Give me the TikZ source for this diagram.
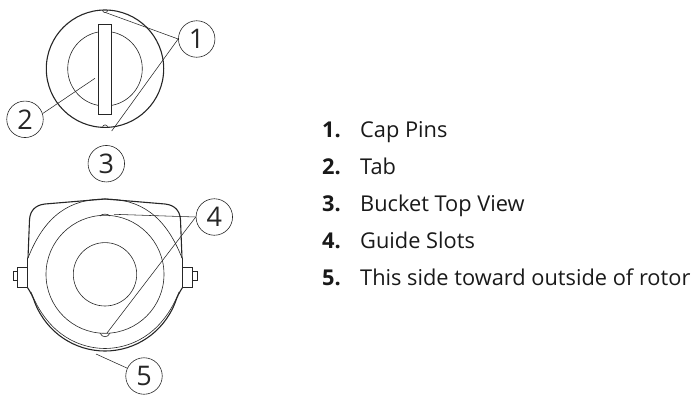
\documentclass[tikz,border=0pt]{standalone}
\usepackage{fontspec}
\setmainfont{Open Sans}
\tikzset{
  callout/.style={circle,draw=black!85,line width=.6pt,minimum size=36.5pt,inner sep=0pt,font=\fontsize{27}{27}\selectfont,text=black!85},
  leader/.style={draw=black!85,line width=.55pt},
  thick part/.style={draw=black!85,line width=1.1pt},
  thin part/.style={draw=black!85,line width=.6pt},
  item/.style={anchor=base west,inner sep=0pt,font=\fontsize{21.8}{24}\selectfont,text=black!90},
  itemnum/.style={anchor=base west,inner sep=0pt,font=\fontsize{21.8}{24}\selectfont\bfseries,text=black!90}
}
\begin{document}
\begin{tikzpicture}[x=1pt,y=-1pt]
\useasboundingbox (0,0) rectangle (699,397);
% cap
\draw[thin part] (102.5,10) arc[start angle=180,end angle=0,radius=2.6] ;
\draw[thin part] (102.5,127.5) arc[start angle=180,end angle=360,radius=2.6];
\draw[thick part] (105,68.7) circle[radius=58.7];
\draw[thin part] (105,68.7) circle[radius=37.3];
\draw[thin part,fill=white] (98.3,24.3) rectangle (111.3,114.3);
% bucket
\draw[thick part] (28,258) -- (29.5,220) .. controls (30,210) and (36,205) .. (45,204) -- (105,199) -- (165,204) .. controls (174,205) and (180,210) .. (180.5,220) -- (182,258);
\draw[thin part] (28,258) .. controls (45,215) and (70,199) .. (105,199) .. controls (140,199) and (165,215) .. (182,258);
\draw[thin part] (105,274.3) circle[radius=59];
\draw[thin part] (105,274.3) circle[radius=31.7];
\draw[thin part] (100,216) .. controls (102,213.5) and (108,213.5) .. (110,216);
\draw[thin part] (100,333) .. controls (102,338) and (108,338) .. (110,333);
% lugs
\draw[thin part] (27.5,267.3) -- (17.5,267.3) -- (17.5,287.5) -- (27.5,287.5);
\draw[thin part] (17.5,271.5) -- (13,271.5) -- (13,280) -- (17.5,280);
\draw[thin part] (182.5,267.3) -- (192.5,267.3) -- (192.5,287.5) -- (182.5,287.5);
\draw[thin part] (192.5,271.5) -- (197,271.5) -- (197,280) -- (192.5,280);
\draw[thick part] (27.5,258) -- (27.5,287.5);
\draw[thick part] (182.5,258) -- (182.5,287.5);
\draw[thick part] (27.5,287.5) .. controls (31,293) and (33,297) .. (35,303) .. controls (47,333) and (75,351) .. (105,351) .. controls (135,351) and (163,333) .. (175,303) .. controls (177,297) and (179,293) .. (182.5,287.5);
\draw[thin part] (31,292) .. controls (45,328) and (72,348) .. (105,348.5) .. controls (138,348) and (165,328) .. (179,292);
% callouts
\node[callout] (c1) at (196.7,39) {1};
\node[callout] (c2) at (25,119.3) {2};
\node[callout] (c3) at (106.3,163.7) {3};
\node[callout] (c4) at (214.3,217) {4};
\node[callout] (c5) at (144,376) {5};
\coordinate (p1a) at (106,12.7);
\coordinate (p1b) at (111.7,131);
\coordinate (p2) at (95,78.3);
\coordinate (p4a) at (114,214.3);
\coordinate (p4b) at (107,333);
\coordinate (p5) at (96,354);
\draw[leader] (c1.west) -- (p1a);
\draw[leader] (c1.west) -- (p1b);
\draw[leader] (c2.18) -- (p2);
\draw[leader] (c4.west) -- (p4a);
\draw[leader] (c4.west) -- (p4b);
\draw[leader] (c5.155) -- (p5);
% list
\foreach \n/\t/\y in {1/Cap Pins/137,2/Tab/174.3,3/Bucket Top View/211,4/Guide Slots/248,5/This side toward outside of rotor/285}{
  \node[itemnum] (n\n) at (322,\y) {\n.};
  \node[item] (t\n) at (360,\y) {\t};
}
\end{tikzpicture}
\end{document}
